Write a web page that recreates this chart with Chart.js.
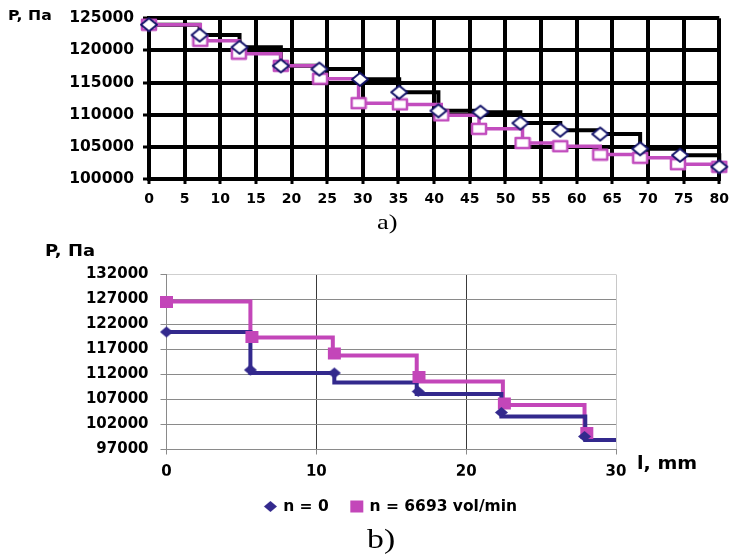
<!DOCTYPE html>
<html>
<head>
<meta charset="utf-8">
<script src="https://cdn.jsdelivr.net/npm/chart.js@4.4.1/dist/chart.umd.min.js"></script>
<style>
  html, body { margin: 0; padding: 0; background: #fff; width: 736px; height: 556px; overflow: hidden; }
  #wrapA { position: absolute; left: 0; top: 0; width: 736px; height: 215px; }
  #wrapB { position: absolute; left: 0; top: 230px; width: 736px; height: 326px; }
  .lbl { position: absolute; font-family: "DejaVu Sans", sans-serif; font-weight: bold; color: #000;
         white-space: nowrap; line-height: 1; transform-origin: 0 0; }
  .cap { position: absolute; font-family: "Liberation Serif", "Times New Roman", serif; color: #000;
         white-space: nowrap; line-height: 1; transform-origin: 0 0; }
</style>
</head>
<body>
<div id="wrapA"><canvas id="chartA" width="736" height="215"></canvas></div>
<div id="wrapB"><canvas id="chartB" width="736" height="326"></canvas></div>

<div class="lbl" style="left:8px;top:8px;font-size:14px;transform:scaleX(1.12)">P, Па</div>
<div class="cap" style="left:377px;top:211px;font-size:22px;transform:scaleX(1.2)">a)</div>
<div class="lbl" style="left:45px;top:243px;font-size:16px;transform:scaleX(1.12)">P, Па</div>
<div class="lbl" style="left:637px;top:455px;font-size:17px;transform:scaleX(1.12)">l, mm</div>
<div class="cap" style="left:367px;top:526px;font-size:27px;transform:scaleX(1.25)">b)</div>

<script>
// ---- panel a): pressure steps along the length (two regimes) ----
const lenA0   = [0, 7.1, 12.7, 18.5, 23.9, 29.6, 35.1, 40.6, 46.5, 52.1, 57.7, 63.3, 68.9, 74.5, 80];
const pressA0 = [124000, 122400, 120500, 117600, 117100, 115500, 113500, 110600, 110400, 108700, 107600, 107000, 104700, 103700, 101900];
const lenA1   = [0, 7.2, 12.6, 18.5, 24.0, 29.4, 35.2, 41.0, 46.3, 52.4, 57.7, 63.3, 68.9, 74.2, 80];
const pressA1 = [124000, 121500, 119500, 117600, 115600, 111800, 111600, 109900, 107800, 105600, 105100, 103800, 103300, 102300, 101900];

// ---- panel b): measured points and stepped pressure profiles ----
const seriesNames = ['n = 0', 'n = 6693 vol/min'];
const lenB0       = [0, 5.6, 11.2, 16.8, 22.35, 27.9];
const pressB0     = [120500, 112900, 112300, 108600, 104400, 99600];
const stepLenB0   = [0, 5.6, 11.2, 16.7, 22.35, 27.95, 30];
const stepPressB0 = [120500, 112300, 110400, 108100, 103600, 98900, 98900];
const lenB1       = [0, 5.7, 11.2, 16.85, 22.55, 28.05];
const pressB1     = [126500, 119500, 116200, 111500, 106200, 100300];
const stepLenB1   = [0, 5.6, 11.1, 16.7, 22.45, 27.9];
const stepPressB1 = [126600, 119400, 115800, 110600, 105900, 99300];

// axis ranges
const axisA = { xMin: 0, xMax: 80, xStep: 5, yMin: 100000, yMax: 125000, yStep: 5000 };
const axisB = { xMin: 0, xMax: 30, xStep: 10, yMin: 97000, yMax: 132000, yStep: 5000 };

const pts = (xs, ys) => xs.map((x, i) => ({ x: x, y: ys[i] }));

// marker sprites
function diamondImg(w, h, fill, stroke, lw) {
  const c = document.createElement('canvas');
  c.width = w + 4; c.height = h + 4;
  const g = c.getContext('2d');
  const cx = c.width / 2, cy = c.height / 2;
  g.beginPath();
  g.moveTo(cx - w / 2, cy); g.lineTo(cx, cy - h / 2); g.lineTo(cx + w / 2, cy); g.lineTo(cx, cy + h / 2);
  g.closePath();
  if (fill) { g.fillStyle = fill; g.fill(); }
  if (stroke) { g.strokeStyle = stroke; g.lineWidth = lw; g.lineJoin = 'round'; g.stroke(); }
  return c;
}
function boxImg(w, h, fill, stroke, lw) {
  const c = document.createElement('canvas');
  c.width = w + 4; c.height = h + 4;
  const g = c.getContext('2d');
  const x0 = (c.width - w) / 2, y0 = (c.height - h) / 2;
  if (fill) { g.fillStyle = fill; g.fillRect(x0, y0, w, h); }
  if (stroke) { g.strokeStyle = stroke; g.lineWidth = lw; g.lineJoin = 'round'; g.strokeRect(x0, y0, w, h); }
  return c;
}

const BLACK = '#000000', NAVY = '#14146a', MAGENTA = '#c24dbe';
const BLUE_B = '#33298d', MAGENTA_B = '#c346b9';

const diamondA = diamondImg(16, 13, '#ffffff', NAVY, 2);
const squareA  = boxImg(14, 10, '#ffffff', MAGENTA, 2.5);
const diamondB = diamondImg(13, 11, BLUE_B, null, 0);
const squareB  = boxImg(13, 12, MAGENTA_B, null, 0);

const numLabel = v => String(v);

// ---------------- chart a) ----------------
const tickFontA = { family: 'DejaVu Sans', weight: 'bold', size: 15.5 };
new Chart(document.getElementById('chartA'), {
  type: 'line',
  data: {
    datasets: [
      { label: '', data: pts(lenA0, pressA0), stepped: true, borderColor: BLACK, borderWidth: 4,
        pointRadius: 0, fill: false, order: 4, clip: false },
      { label: '', data: pts(lenA1, pressA1), stepped: true, borderColor: MAGENTA, borderWidth: 3.5,
        pointStyle: squareA, pointRadius: 5, fill: false, order: 3, clip: false },
      { label: '', data: pts(lenA0, pressA0), showLine: false, pointStyle: diamondA, pointRadius: 5,
        order: 1, clip: false }
    ]
  },
  options: {
    responsive: false, animation: false, events: [],
    layout: { padding: { left: 0, right: 13, top: 12.5, bottom: 0 } },
    plugins: { legend: { display: false }, tooltip: { enabled: false } },
    scales: {
      x: {
        type: 'linear', min: axisA.xMin, max: axisA.xMax,
        ticks: { stepSize: axisA.xStep, autoSkip: false, maxRotation: 0, color: '#000', padding: 7,
                 font: { family: 'DejaVu Sans', weight: 'bold', size: 14 }, callback: numLabel },
        grid: { color: '#000', lineWidth: 4, tickLength: 5, tickWidth: 3, tickColor: '#000' },
        border: { color: '#000', width: 4 },
        afterFit: s => { s.height = 36; }
      },
      y: {
        type: 'linear', min: axisA.yMin, max: axisA.yMax,
        ticks: { stepSize: axisA.yStep, color: '#000', padding: 9, font: tickFontA, callback: numLabel },
        grid: { color: '#000', lineWidth: 4, tickLength: 6, tickWidth: 3, tickColor: '#000' },
        border: { color: '#000', width: 4 },
        afterFit: s => { s.width = 149; }
      }
    }
  }
});

// ---------------- chart b) ----------------
const tickFontB = { family: 'DejaVu Sans', weight: 'bold', size: 15 };
new Chart(document.getElementById('chartB'), {
  type: 'line',
  data: {
    datasets: [
      { label: '', data: pts(stepLenB1, stepPressB1), stepped: true, borderColor: MAGENTA_B, borderWidth: 4,
        pointRadius: 0, fill: false, order: 4, clip: false },
      { label: '', data: pts(stepLenB0, stepPressB0), stepped: true, borderColor: BLUE_B, borderWidth: 4,
        pointRadius: 0, fill: false, order: 3, clip: false },
      { label: seriesNames[1], data: pts(lenB1, pressB1), showLine: false, pointStyle: squareB, pointRadius: 5,
        backgroundColor: MAGENTA_B, borderColor: MAGENTA_B, order: 2, clip: false },
      { label: seriesNames[0], data: pts(lenB0, pressB0), showLine: false, pointStyle: diamondB, pointRadius: 5,
        backgroundColor: BLUE_B, borderColor: BLUE_B, order: 1, clip: false }
    ]
  },
  options: {
    responsive: false, animation: false, events: [],
    layout: { padding: { left: 48, right: 1.5, top: 44.5, bottom: 31.75 } },
    plugins: {
      tooltip: { enabled: false },
      legend: {
        position: 'bottom',
        labels: {
          usePointStyle: true, boxWidth: 10, padding: 23, color: '#000',
          font: { family: 'DejaVu Sans', weight: 'bold', size: 15.5 },
          filter: item => !!item.text
        }
      }
    },
    scales: {
      x: {
        type: 'linear', min: axisB.xMin, max: axisB.xMax,
        ticks: { stepSize: axisB.xStep, autoSkip: false, maxRotation: 0, color: '#000', padding: 9,
                 font: tickFontB, callback: numLabel },
        grid: {
          lineWidth: 1, tickLength: 5, tickColor: '#8a8a8a',
          color: c => c.tick && c.tick.value === axisB.xMax ? '#c8c8c8'
                    : (c.tick && c.tick.value === axisB.xMin ? '#8a8a8a' : '#3a3a3a')
        },
        border: { color: '#8a8a8a', width: 1 },
        afterFit: s => { s.height = 26.25; }
      },
      y: {
        type: 'linear', min: axisB.yMin, max: axisB.yMax,
        ticks: { stepSize: axisB.yStep, color: '#000', padding: 12, font: tickFontB, callback: numLabel },
        grid: {
          lineWidth: 1, tickLength: 6, tickColor: '#8a8a8a',
          color: c => c.tick && c.tick.value === axisB.yMax ? '#cfcfcf' : '#8a8a8a'
        },
        border: { color: '#8a8a8a', width: 1 },
        afterFit: s => { s.width = 118.5; }
      },
      yRight: {
        type: 'linear', position: 'right', min: axisB.yMin, max: axisB.yMax,
        ticks: { display: false }, grid: { display: false }, border: { display: false },
        afterFit: s => { s.width = 118.5; }
      }
    }
  }
});
</script>
</body>
</html>
